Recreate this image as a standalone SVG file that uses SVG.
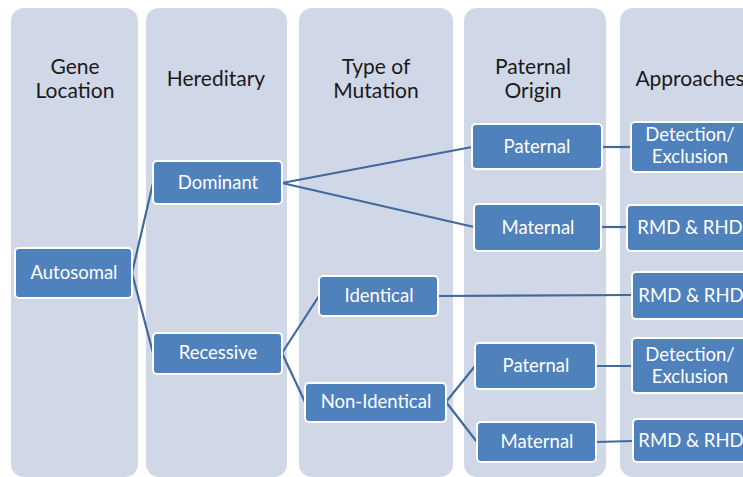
<svg xmlns="http://www.w3.org/2000/svg" width="743" height="477" viewBox="0 0 743 477">
<style>
.lane{fill:#d0d8e8;}
.hdr{font-family:Lato,"Liberation Sans",Arial,sans-serif;font-size:21px;fill:#1a1a1a;text-anchor:middle;}
.box{fill:#4f81bd;stroke:#ffffff;stroke-width:2;}
.lbl{font-family:Lato,"Liberation Sans",Arial,sans-serif;font-size:18.5px;fill:#ffffff;text-anchor:middle;}
.con{stroke:#41699c;stroke-width:2.2;fill:none;}
</style>
<rect width="743" height="477" fill="#ffffff"/>
<g id="lanes">
<rect class="lane" x="11" y="8" width="127" height="469" rx="13"/>
<rect class="lane" x="146" y="8" width="141" height="469" rx="13"/>
<rect class="lane" x="299" y="8" width="154" height="469" rx="13"/>
<rect class="lane" x="464" y="8" width="142" height="469" rx="13"/>
<rect class="lane" x="620" y="8" width="150" height="469" rx="13"/>
<text class="hdr" x="75" y="74">Gene</text>
<text class="hdr" x="75" y="98">Location</text>
<text class="hdr" x="216" y="86">Hereditary</text>
<text class="hdr" x="376" y="74">Type of</text>
<text class="hdr" x="376" y="98">Mutation</text>
<text class="hdr" x="533" y="74">Paternal</text>
<text class="hdr" x="533" y="98">Origin</text>
<text class="hdr" x="690" y="86">Approaches</text>
</g>
<g id="connectors">
<line class="con" x1="132" y1="273" x2="153" y2="183"/>
<line class="con" x1="132" y1="273" x2="153" y2="353"/>
<line class="con" x1="282" y1="183" x2="472" y2="147"/>
<line class="con" x1="282" y1="183" x2="474" y2="227"/>
<line class="con" x1="602" y1="147" x2="631" y2="147"/>
<line class="con" x1="601" y1="227" x2="627" y2="227"/>
<line class="con" x1="282" y1="353" x2="319" y2="296"/>
<line class="con" x1="282" y1="353" x2="305" y2="402"/>
<line class="con" x1="438" y1="296" x2="632" y2="295"/>
<line class="con" x1="446" y1="402" x2="475" y2="366"/>
<line class="con" x1="446" y1="402" x2="477" y2="442"/>
<line class="con" x1="596" y1="366" x2="632" y2="366"/>
<line class="con" x1="596" y1="442" x2="633" y2="441"/>
</g>
<g id="autosomal"><rect class="box" x="15" y="248" width="117" height="50" rx="4"/><text class="lbl" x="74" y="279">Autosomal</text></g>
<g id="dominant"><rect class="box" x="153" y="161" width="129" height="43" rx="4"/><text class="lbl" x="218" y="189">Dominant</text></g>
<g id="recessive"><rect class="box" x="153" y="333" width="129" height="41" rx="4"/><text class="lbl" x="218" y="359">Recessive</text></g>
<g id="paternal1"><rect class="box" x="472" y="124" width="130" height="45" rx="4"/><text class="lbl" x="537" y="153">Paternal</text></g>
<g id="maternal1"><rect class="box" x="474" y="204" width="127" height="47" rx="4"/><text class="lbl" x="538" y="234">Maternal</text></g>
<g id="identical"><rect class="box" x="319" y="276" width="119" height="40" rx="4"/><text class="lbl" x="379" y="302">Identical</text></g>
<g id="nonidentical"><rect class="box" x="305" y="383" width="141" height="39" rx="4"/><text class="lbl" x="376" y="408">Non-Identical</text></g>
<g id="paternal2"><rect class="box" x="475" y="343" width="121" height="46" rx="4"/><text class="lbl" x="536" y="372">Paternal</text></g>
<g id="maternal2"><rect class="box" x="477" y="422" width="119" height="40" rx="4"/><text class="lbl" x="537" y="448">Maternal</text></g>
<g id="detection1"><rect class="box" x="631" y="122" width="130" height="50" rx="4"/><text class="lbl" x="690" y="141">Detection/</text><text class="lbl" x="690" y="163">Exclusion</text></g>
<g id="rmd1"><rect class="box" x="627" y="205" width="130" height="46" rx="4"/><text class="lbl" x="690" y="234">RMD &amp; RHD</text></g>
<g id="rmd2"><rect class="box" x="632" y="272" width="130" height="47" rx="4"/><text class="lbl" x="691" y="302">RMD &amp; RHD</text></g>
<g id="detection2"><rect class="box" x="632" y="338" width="130" height="55" rx="4"/><text class="lbl" x="690" y="361">Detection/</text><text class="lbl" x="690" y="383">Exclusion</text></g>
<g id="rmd3"><rect class="box" x="633" y="419" width="130" height="43" rx="4"/><text class="lbl" x="691" y="447">RMD &amp; RHD</text></g>
</svg>
